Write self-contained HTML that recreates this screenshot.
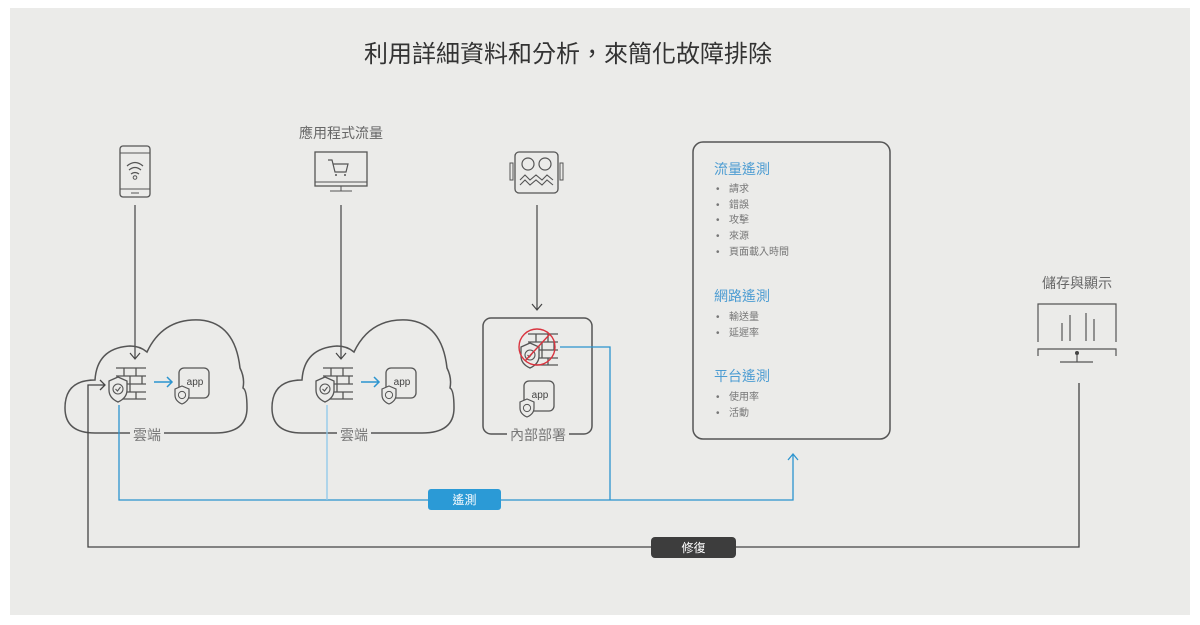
<!DOCTYPE html>
<html><head><meta charset="utf-8"><style>
html,body{margin:0;padding:0;background:#fff;}
svg{display:block;}
text{font-family:"Liberation Sans","Noto Sans CJK TC",sans-serif;}
</style></head><body>
<svg width="1200" height="625" viewBox="0 0 1200 625" xmlns="http://www.w3.org/2000/svg">
<defs>
<g id="fw">
 <g stroke="#555" stroke-width="1.3" fill="none">
  <line x1="8" y1="0" x2="38" y2="0"/><line x1="8" y1="8" x2="38" y2="8"/><line x1="14" y1="16" x2="38" y2="16"/><line x1="14" y1="24" x2="38" y2="24"/><line x1="14" y1="31" x2="38" y2="31"/>
  <line x1="16" y1="0" x2="16" y2="8"/><line x1="28" y1="0" x2="28" y2="8"/><line x1="22" y1="8" x2="22" y2="16"/><line x1="34" y1="8" x2="34" y2="16"/><line x1="22" y1="16" x2="22" y2="24"/><line x1="28" y1="24" x2="28" y2="31"/>
 </g>
 <path d="M1 13 L10 9 L19 13 L19 22 Q19 30 10 34 Q1 30 1 22 Z" fill="#ebebe9" stroke="#555" stroke-width="1.3"/>
 <circle cx="10" cy="21" r="5" fill="none" stroke="#555" stroke-width="1.1"/>
 <path d="M7.5 21 L9.5 23 L12.5 19" fill="none" stroke="#555" stroke-width="1.1"/>
</g>
<g id="app">
 <rect x="4" y="0" width="30" height="30" rx="5" fill="#ebebe9" stroke="#555" stroke-width="1.3"/>
 <text x="20" y="17" font-size="10" fill="#444" text-anchor="middle">app</text>
 <path d="M0 21 L7 18 L14 21 L14 27 Q14 33 7 36 Q0 33 0 27 Z" fill="#ebebe9" stroke="#555" stroke-width="1.2"/>
 <circle cx="7" cy="27" r="3.6" fill="none" stroke="#555" stroke-width="1"/>
</g>
<path id="cloud" d="M30 115 Q0 115 0 90 Q0 62 30 62 Q32 30 65 28 Q75 28 82 34 Q98 0 135 2 Q170 5 175 50 Q180 60 178 70 Q182 72 182 90 Q182 115 150 115 Z" fill="none" stroke="#555" stroke-width="1.5"/>
</defs>
<rect x="10" y="8" width="1180" height="607" fill="#ebebe9"/>
<text x="568" y="62" font-size="24" fill="#333" text-anchor="middle">利用詳細資料和分析，來簡化故障排除</text>

<!-- phone -->
<rect x="120" y="146" width="30" height="51" rx="3" fill="none" stroke="#555" stroke-width="1.3"/>
<line x1="120" y1="153" x2="150" y2="153" stroke="#555"/><line x1="120" y1="189" x2="150" y2="189" stroke="#555"/>
<line x1="131" y1="193" x2="139" y2="193" stroke="#555"/>
<path d="M127 166 Q135 159 143 166 M129 170 Q135 165 141 170 M131 174 Q135 171 139 174" fill="none" stroke="#555" stroke-width="1.2"/>
<circle cx="135" cy="177.5" r="1.8" fill="none" stroke="#555"/>
<!-- monitor cart -->
<text x="341" y="138" font-size="14" fill="#666" text-anchor="middle">應用程式流量</text>
<rect x="315" y="152" width="52" height="34" fill="none" stroke="#555" stroke-width="1.3"/>
<line x1="315" y1="182" x2="367" y2="182" stroke="#555"/>
<line x1="341" y1="186" x2="341" y2="191" stroke="#555"/><line x1="330" y1="191" x2="352" y2="191" stroke="#555"/>
<path d="M328 160 L332 160 L335 172 L346 172 L348 164 L333 164" fill="none" stroke="#555" stroke-width="1.2"/>
<circle cx="336" cy="175" r="1" fill="#555"/><circle cx="345" cy="175" r="1" fill="#555"/>
<!-- robot -->
<rect x="515" y="152" width="43" height="41" rx="4" fill="none" stroke="#555" stroke-width="1.3"/>
<rect x="510" y="163" width="3" height="17" fill="none" stroke="#555"/><rect x="560" y="163" width="3" height="17" fill="none" stroke="#555"/>
<circle cx="528" cy="164" r="6" fill="none" stroke="#555" stroke-width="1.2"/><circle cx="545" cy="164" r="6" fill="none" stroke="#555" stroke-width="1.2"/>
<path d="M520 180 L525 175 L530 180 L536 175 L542 180 L547 175 L553 180 M520 185 L525 180 L530 185 L536 180 L542 185 L547 180 L553 185" fill="none" stroke="#555" stroke-width="1.1"/>

<!-- down arrows -->
<g stroke="#444" stroke-width="1.2" fill="none">
<line x1="135" y1="205" x2="135" y2="358"/><path d="M130 353 L135 359 L140 353"/>
<line x1="341" y1="205" x2="341" y2="358"/><path d="M336 353 L341 359 L346 353"/>
<line x1="537" y1="205" x2="537" y2="309"/><path d="M532 304 L537 310 L542 304"/>
</g>

<!-- clouds -->
<use href="#cloud" x="65" y="318"/>
<use href="#cloud" x="272" y="318"/>
<rect x="130" y="426" width="34" height="18" fill="#ebebe9"/>
<rect x="337" y="426" width="34" height="18" fill="#ebebe9"/>
<text x="147" y="440" font-size="14" fill="#777" text-anchor="middle">雲端</text>
<text x="354" y="440" font-size="14" fill="#777" text-anchor="middle">雲端</text>
<!-- onprem -->
<rect x="483" y="318" width="109" height="116" rx="8" fill="none" stroke="#555" stroke-width="1.5"/>
<rect x="507" y="426" width="62" height="18" fill="#ebebe9"/>
<text x="538" y="440" font-size="14" fill="#777" text-anchor="middle">內部部署</text>

<use href="#fw" x="108" y="368"/>
<use href="#app" x="175" y="368"/>
<use href="#fw" x="315" y="368"/>
<use href="#app" x="382" y="368"/>
<g stroke="#2b94cf" stroke-width="1.5" fill="none">
<line x1="154" y1="382" x2="172" y2="382"/><path d="M167 377 L172 382 L167 387"/>
<line x1="361" y1="382" x2="379" y2="382"/><path d="M374 377 L379 382 L374 387"/>
</g>
<use href="#fw" x="520" y="334"/>
<circle cx="537" cy="347" r="18" fill="none" stroke="#d9343f" stroke-width="1.4"/>
<line x1="525" y1="361" x2="550" y2="334" stroke="#d9343f" stroke-width="1.4"/>
<use href="#app" x="520" y="381"/>

<!-- telemetry lines -->
<g stroke="#2b94cf" stroke-width="1.3" fill="none">
<path d="M119 405 L119 500 L793 500 L793 455"/>
<path d="M788 460 L793 454 L798 460"/>
<path d="M560 347 L610 347 L610 500"/>
</g>
<line x1="327" y1="405" x2="327" y2="500" stroke="#8cc8ea" stroke-width="1.3"/>
<rect x="428" y="489" width="73" height="21" rx="3" fill="#2b9ad6"/>
<text x="464.5" y="504" font-size="12" fill="#fff" text-anchor="middle">遙測</text>

<!-- repair line -->
<g stroke="#444" stroke-width="1.3" fill="none">
<path d="M105 385 L88 385 L88 547 L1079 547 L1079 383"/>
<path d="M100 380 L105 385 L100 390"/>
</g>
<rect x="651" y="537" width="85" height="21" rx="4" fill="#3d3d3d"/>
<text x="693.5" y="552" font-size="12" fill="#fff" text-anchor="middle">修復</text>

<!-- telemetry box -->
<rect x="693" y="142" width="197" height="297" rx="10" fill="none" stroke="#555" stroke-width="1.5"/>
<g font-size="14" fill="#4c9cd2">
<text x="714" y="174">流量遙測</text>
<text x="714" y="301">網路遙測</text>
<text x="714" y="381">平台遙測</text>
</g>
<g font-size="10" fill="#777">
<text x="716" y="192">•</text><text x="729" y="192">請求</text>
<text x="716" y="208">•</text><text x="729" y="208">錯誤</text>
<text x="716" y="223">•</text><text x="729" y="223">攻擊</text>
<text x="716" y="239">•</text><text x="729" y="239">來源</text>
<text x="716" y="255">•</text><text x="729" y="255">頁面載入時間</text>
<text x="716" y="320">•</text><text x="729" y="320">輸送量</text>
<text x="716" y="336">•</text><text x="729" y="336">延遲率</text>
<text x="716" y="400">•</text><text x="729" y="400">使用率</text>
<text x="716" y="416">•</text><text x="729" y="416">活動</text>
</g>

<!-- store & display -->
<text x="1077" y="288" font-size="14" fill="#666" text-anchor="middle">儲存與顯示</text>
<g stroke="#555" stroke-width="1.2" fill="none">
<path d="M1038 342 L1038 304 L1116 304 L1116 342"/>
<line x1="1062" y1="323" x2="1062" y2="341"/><line x1="1070" y1="315" x2="1070" y2="341"/><line x1="1086" y1="313" x2="1086" y2="341"/><line x1="1094" y1="319" x2="1094" y2="341"/>
<path d="M1038 356 L1038 349 L1116 349 L1116 356"/>
<line x1="1060" y1="362" x2="1093" y2="362"/><line x1="1077" y1="355" x2="1077" y2="362"/>
</g>
<circle cx="1077" cy="353" r="2" fill="#444"/>
</svg>
</body></html>
